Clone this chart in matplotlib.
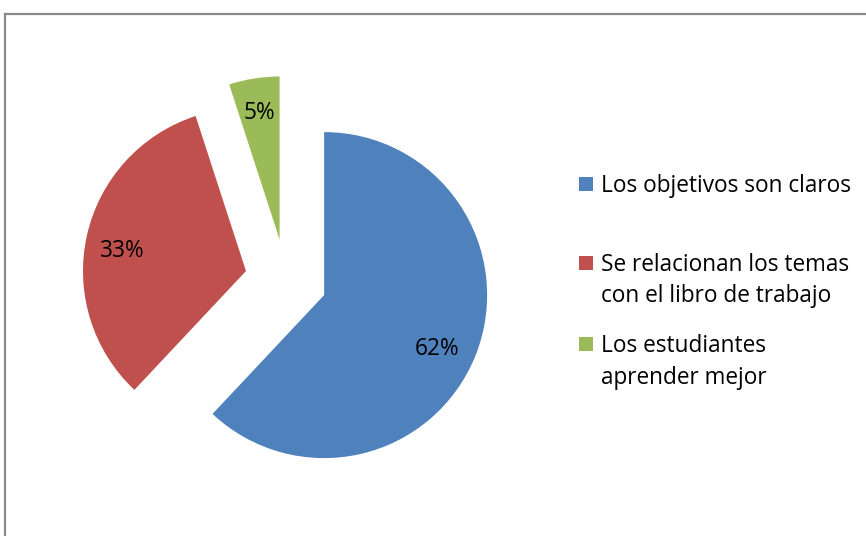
import matplotlib
matplotlib.use("Agg")
import matplotlib.pyplot as plt
from matplotlib.patches import Rectangle
from matplotlib.lines import Line2D

categories = ["Los objetivos son claros",
              "Se relacionan los temas\ncon el libro de trabajo",
              "Los estudiantes\naprender mejor"]
values = [62, 33, 5]
colors = ["#4F81BD", "#C0504D", "#9BBB59"]

W, H = 866, 536
fig = plt.figure(figsize=(W / 100, H / 100), dpi=100)
ax = fig.add_axes([0, 0, 1, 1])

font = "Open Sans"
fs = 16.3

wedges, texts, autotexts = ax.pie(
    values, colors=colors, startangle=90, counterclock=False,
    explode=[41, 41, 41], center=(286, H - 280), radius=163,
    autopct=lambda p: f"{p:.0f}%", pctdistance=0.77,
    textprops=dict(fontsize=fs, family=font, style="normal", color="black"),
    wedgeprops=dict(linewidth=0), frame=True)

# small label nudges (pixels) to mimic the original placement
nudges = [(-4, -8), (-1, -7), (-1, 3)]
for t, (dx, dy) in zip(autotexts, nudges):
    x, y = t.get_position()
    t.set_position((x + dx, y + dy))

ax.set_xlim(0, W)
ax.set_ylim(0, H)
ax.set_aspect("equal")
ax.axis("off")

# border
fig.add_artist(Line2D([5 / W, 1.01], [1 - 14 / H, 1 - 14 / H], color="#8a8a8a", lw=1.6,
                      transform=fig.transFigure))
fig.add_artist(Line2D([5 / W, 5 / W], [1 - 14 / H, -0.01], color="#8a8a8a", lw=1.6,
                      transform=fig.transFigure))

# legend
first_baselines = [192, 271, 352]
line_gap = 31.5
for cat, col, yb in zip(categories, colors, first_baselines):
    fig.add_artist(Rectangle((579 / W, 1 - (yb - 1) / H), 14 / W, 14 / H,
                             facecolor=col, edgecolor="none", transform=fig.transFigure))
    for i, line in enumerate(cat.split("\n")):
        fig.text(601 / W, 1 - (yb + i * line_gap) / H, line, family=font, fontsize=fs,
                 style="normal", va="baseline", ha="left")

fig.savefig("out.png", dpi=100)
